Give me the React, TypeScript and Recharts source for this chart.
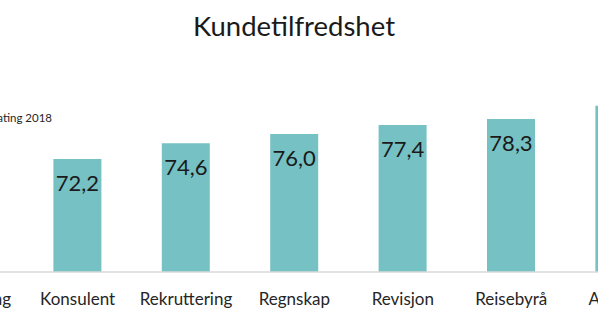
import React from 'react';
import { BarChart, Bar, XAxis, YAxis, LabelList } from 'recharts';

const categories = ['Bemanning', 'Konsulent', 'Rekruttering', 'Regnskap', 'Revisjon', 'Reisebyrå', 'Advokat'];
const scores = [71.0, 72.2, 74.6, 76.0, 77.4, 78.3, 80.3];
const title = 'Kundetilfredshet';
const legendText = 'Rating 2018';

const data = categories.map((c, i) => ({ name: c, value: scores[i] }));

const FONT = 'Lato, "Open Sans", sans-serif';

export default function App() {
  return (
    <div style={{ position: 'absolute', left: 0, top: 0, width: 598, height: 336, overflow: 'hidden', background: '#fff', fontFamily: FONT }}>
      <div style={{ position: 'absolute', left: 0, top: 9, width: 588, textAlign: 'center', fontSize: 27.5, color: '#1a1a1a', fontWeight: 400 }}>
        {title}
      </div>
      <div style={{ position: 'absolute', right: 546, top: 111, whiteSpace: 'nowrap', fontSize: 11.5, color: '#262626' }}>
        {legendText}
      </div>
      <div style={{ position: 'absolute', left: -104.6, top: 0 }}>
        <BarChart width={800} height={336} data={data} margin={{ top: 75, right: 21.2, bottom: 34, left: 20 }} barCategoryGap={0}>
          <XAxis
            dataKey="name"
            axisLine={{ stroke: '#d9d9d9', strokeWidth: 1.5 }}
            tickLine={false}
            tickMargin={15}
            height={30}
            interval={0}
            tick={{ fontSize: 17, fill: '#262626', fontFamily: FONT }}
          />
          <YAxis hide domain={[55, 85]} allowDataOverflow />
          <Bar dataKey="value" fill="#76c1c4" barSize={48} isAnimationActive={false}>
            <LabelList
              dataKey="value"
              position="insideTop"
              offset={16}
              formatter={(v: number) => v.toFixed(1).replace('.', ',')}
              style={{ fontSize: 22, fill: '#1a1a1a', fontFamily: FONT }}
            />
          </Bar>
        </BarChart>
      </div>
    </div>
  );
}
